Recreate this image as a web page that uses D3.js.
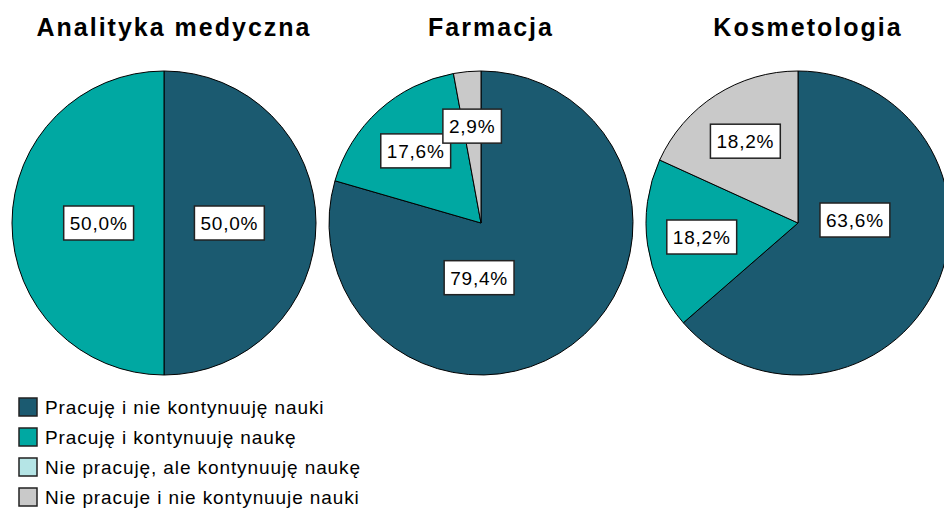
<!DOCTYPE html>
<html>
<head>
<meta charset="utf-8">
<script src="https://cdn.jsdelivr.net/npm/d3@7"></script>
<style>
  body { margin: 0; background: #fff; }
  text { font-family: "Liberation Sans", Arial, sans-serif; }
</style>
</head>
<body>
<div id="canvas"></div>
<script>
const charts = ["Analityka medyczna", "Farmacja", "Kosmetologia"];
const categories = [
    "Pracuję i nie kontynuuję nauki",
    "Pracuję i kontynuuję naukę",
    "Nie pracuję, ale kontynuuję naukę",
    "Nie pracuje i nie kontynuuje nauki"
];
const analitykaValues = [50.0, 50.0, 0, 0];
const farmacjaValues = [79.4, 17.6, 0, 2.9];
const kosmetologiaValues = [63.6, 18.2, 0, 18.2];
const seriesValues = [analitykaValues, farmacjaValues, kosmetologiaValues];

const colors = ["#1b5a70", "#00a8a2", "#b5e5e6", "#c9c9c9"];

// the label of the big slice is not on its mid-angle, so place it by hand
const bigLabel = { "Farmacja": [182, 0.36], "Kosmetologia": [87, 0.375] };

const width = 944, height = 511;
const radius = 152, cy = 223;

const svg = d3.select("#canvas").append("svg")
    .attr("width", width)
    .attr("height", height);

const x = d3.scalePoint().domain(charts).range([164, 798]);
const color = d3.scaleOrdinal().domain(categories).range(colors);

const pie = d3.pie().sort(null).value(d => d.value);
const arc = d3.arc().innerRadius(0).outerRadius(radius);

charts.forEach(function (name, i) {
    const data = categories.map((c, k) => ({ cat: c, value: seriesValues[i][k] }));
    const g = svg.append("g").attr("transform", `translate(${x(name)},${cy})`);

    const arcs = pie(data).filter(d => d.data.value > 0);

    g.selectAll("path")
        .data(arcs)
        .enter().append("path")
        .attr("d", arc)
        .attr("fill", d => color(d.data.cat))
        .attr("stroke", "#000")
        .attr("stroke-width", 1);

    arcs.forEach(function (d) {
        let a = (d.startAngle + d.endAngle) / 2;
        let rf = d.data.value >= 50 ? 0.43 : 0.64;
        if (d.index === 0 && bigLabel[name]) {
            a = bigLabel[name][0] * Math.PI / 180;
            rf = bigLabel[name][1];
        }
        const lx = Math.sin(a) * radius * rf;
        const ly = -Math.cos(a) * radius * rf;
        const lg = g.append("g").attr("transform", `translate(${lx},${ly})`);
        const rect = lg.append("rect");
        const t = lg.append("text")
            .attr("text-anchor", "middle")
            .attr("dy", "0.36em")
            .style("font-size", "19px")
            .style("letter-spacing", "0.8px")
            .text(d3.format(".1f")(d.data.value).replace(".", ",") + "%");
        const w = t.node().getComputedTextLength() + 12;
        rect.attr("x", -w / 2).attr("y", -17)
            .attr("width", w).attr("height", 34)
            .attr("fill", "#fff")
            .attr("stroke", "#222")
            .attr("stroke-width", 1.5);
    });

    svg.append("text")
        .attr("x", x(name) + 10)
        .attr("y", 36)
        .attr("text-anchor", "middle")
        .style("font-size", "25px")
        .style("font-weight", "bold")
        .style("letter-spacing", "2px")
        .text(name);
});

const legend = svg.append("g").attr("transform", "translate(19,398)");
const item = legend.selectAll("g")
    .data(categories)
    .enter().append("g")
    .attr("transform", (d, i) => `translate(0,${i * 30})`);

item.append("rect")
    .attr("width", 18).attr("height", 18)
    .attr("fill", d => color(d))
    .attr("stroke", "#222")
    .attr("stroke-width", 1.5);

item.append("text")
    .attr("x", 26)
    .attr("y", 9)
    .attr("dy", "0.36em")
    .style("font-size", "19px")
    .style("letter-spacing", "0.9px")
    .text(d => d);
</script>
</body>
</html>
